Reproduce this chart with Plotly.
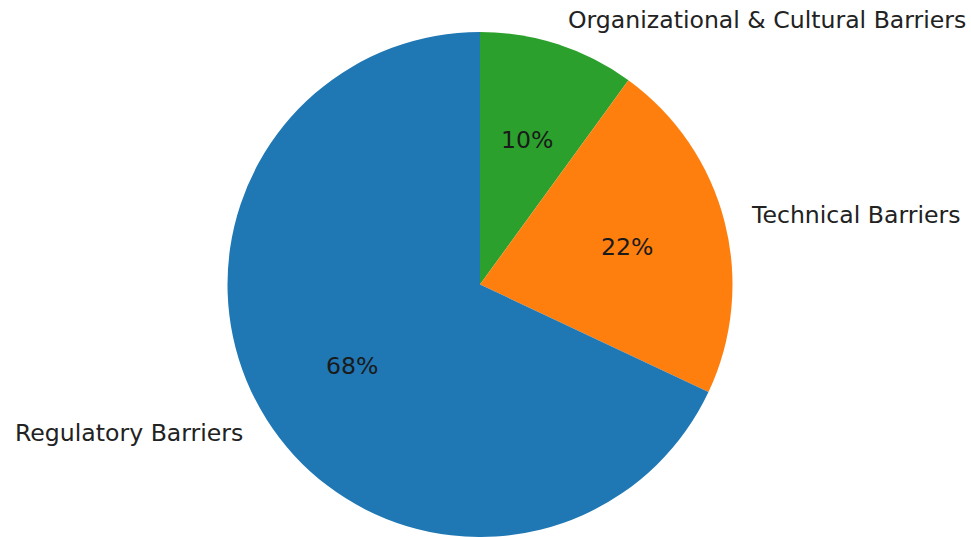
import math
import plotly.graph_objects as go

# Share of reported barriers
categories = ["Regulatory Barriers", "Technical Barriers", "Organizational & Cultural Barriers"]
shares = [68, 22, 10]
colors = ["#1f77b4", "#ff7f0e", "#2ca02c"]

W, H = 971, 537
cx, cy, r = 480, 284.5, 252.5   # pie centre / radius in pixels
top_margin = H - 2 * r           # space above the pie

# Slices run counter-clockwise from 12 o'clock in list order; drawing the
# reversed list clockwise from 12 o'clock gives the same layout.
fig = go.Figure(go.Pie(
    labels=categories[::-1],
    values=shares[::-1],
    sort=False,
    direction="clockwise",
    rotation=0,
    marker=dict(colors=colors[::-1], line=dict(width=0)),
    textinfo="none",
    hoverinfo="label+percent",
    showlegend=False,
    domain=dict(x=[(cx - r) / W, (cx + r) / W], y=[0, 1 - top_margin / H]),
))

# Label placement: names at 1.1 r, percentages at 0.6 r, at each slice's mid-angle
font = "DejaVu Sans, Verdana, sans-serif"
fsize = 23.6
total = sum(shares)
start = 90.0
for name, v in zip(categories, shares):
    sweep = 360.0 * v / total
    mid = math.radians(start + sweep / 2)
    start += sweep
    dx, dy = math.cos(mid), math.sin(mid)
    # outer name
    fig.add_annotation(
        x=(cx + 1.1 * r * dx) / W, y=1 - (cy - 1.1 * r * dy) / H,
        xref="paper", yref="paper", text=name, showarrow=False,
        xanchor="left" if dx > 0 else "right", yanchor="middle",
        font=dict(family=font, size=fsize, color="#222222"),
    )
    # percentage inside the slice
    fig.add_annotation(
        x=(cx + 0.6 * r * dx) / W, y=1 - (cy - 0.6 * r * dy) / H,
        xref="paper", yref="paper", text=f"{v:.0f}%", showarrow=False,
        xanchor="center", yanchor="middle",
        font=dict(family=font, size=fsize, color="#1a1a1a"),
    )

fig.update_layout(
    width=W, height=H,
    margin=dict(l=0, r=0, t=0, b=0),
    paper_bgcolor="white", plot_bgcolor="white",
)

fig.write_html("out.html")
